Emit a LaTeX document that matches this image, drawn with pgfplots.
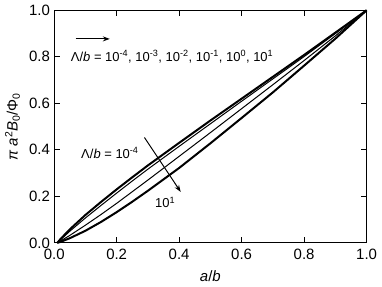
\documentclass[border=0pt]{standalone}
\usepackage{fontspec}
\setmainfont{Liberation Sans}
\usepackage{pgfplots}
\pgfplotsset{compat=1.18}
\usetikzlibrary{arrows.meta}
\begin{document}
\fontsize{15}{17}\selectfont
\begin{tikzpicture}
\begin{axis}[
  scale only axis,
  width=313pt, height=233pt,
  xmin=0, xmax=1, ymin=0, ymax=1,
  xtick={0,0.2,...,1.0}, ytick={0,0.2,...,1.0},
  tick align=inside,
  major tick length=6pt,
  tick label style={/pgf/number format/fixed, /pgf/number format/fixed zerofill, /pgf/number format/precision=1, /pgf/number format/assume math mode=true, font=\fontsize{15}{17}\selectfont},
  xticklabel style={yshift=-1pt},
  yticklabel style={xshift=1pt},
  axis line style={line width=1pt},
  every tick/.style={black, line width=1pt},
  xlabel={\textit{a}/\textit{b}},
  ylabel={\textit{π a}\textsuperscript{2}\textit{B}\textsubscript{0}/Φ\textsubscript{0}},
  label style={font=\fontsize{15}{17}\selectfont},
  xlabel style={yshift=-1pt},
  ylabel style={yshift=-1pt},
  clip=false,
]
% top (thick)
\addplot[black, line width=2pt] coordinates {
(0.01,0)(0.02,0.016)(0.05,0.058)(0.1,0.12)(0.15,0.176)(0.2,0.23)(0.25,0.282)(0.3,0.333)(0.4,0.43)(0.5,0.526)(0.6,0.62)(0.7,0.714)(0.8,0.808)(0.9,0.904)(1,1)};
% thin 1
\addplot[black, line width=1pt] coordinates {
(0.01,0)(0.02,0.013)(0.05,0.05)(0.1,0.107)(0.15,0.161)(0.2,0.214)(0.25,0.266)(0.3,0.317)(0.4,0.415)(0.5,0.512)(0.6,0.609)(0.7,0.705)(0.8,0.801)(0.9,0.9)(1,1)};
% thin 2
\addplot[black, line width=1pt] coordinates {
(0.01,0)(0.02,0.008)(0.05,0.032)(0.1,0.076)(0.15,0.122)(0.2,0.17)(0.25,0.22)(0.3,0.27)(0.4,0.372)(0.5,0.474)(0.6,0.577)(0.7,0.68)(0.8,0.784)(0.9,0.89)(1,1)};
% bottom (thick)
\addplot[black, line width=2pt] coordinates {
(0.01,0)(0.02,0.004)(0.05,0.02)(0.1,0.052)(0.15,0.09)(0.2,0.132)(0.25,0.177)(0.3,0.224)(0.4,0.322)(0.5,0.428)(0.6,0.537)(0.7,0.647)(0.8,0.762)(0.9,0.878)(1,1)};
% annotations
\draw[-{Stealth[length=7pt,width=5pt]}, line width=1pt] (axis cs:0.069,0.877) -- (axis cs:0.178,0.877);
\node[anchor=west, inner sep=0pt, font=\fontsize{13}{15}\selectfont] at (axis cs:0.053,0.80) {Λ/\textit{b} = 10\textsuperscript{-4}, 10\textsuperscript{-3}, 10\textsuperscript{-2}, 10\textsuperscript{-1}, 10\textsuperscript{0}, 10\textsuperscript{1}};
\node[anchor=west, inner sep=0pt, font=\fontsize{13}{15}\selectfont] at (axis cs:0.086,0.386) {Λ/\textit{b} = 10\textsuperscript{-4}};
\draw[-{Stealth[length=7pt,width=5pt]}, line width=1pt] (axis cs:0.289,0.453) -- (axis cs:0.405,0.219);
\node[inner sep=0pt, font=\fontsize{13}{15}\selectfont] at (axis cs:0.355,0.175) {10\textsuperscript{1}};
\end{axis}
\end{tikzpicture}
\end{document}
